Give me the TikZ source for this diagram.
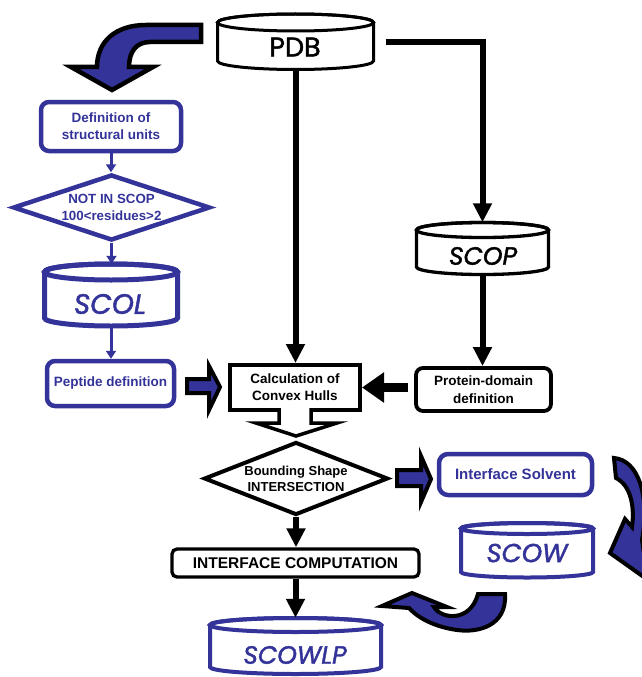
\documentclass[tikz,border=0pt]{standalone}
\usepackage{fontspec}
\setmainfont{Liberation Sans}
\newfontfamily\comicf{Poppins}[FakeBold=1.6]
\usetikzlibrary{arrows.meta,shapes.geometric}
\definecolor{dblue}{RGB}{51,51,153}
\tikzset{
  bluebox/.style={draw=dblue, text=dblue, line width=4.5pt, rounded corners=8pt, fill=white,
    font=\fontsize{13.5}{17}\selectfont\bfseries, align=center, inner sep=0pt},
  blkbox/.style={draw=black, text=black, line width=4pt, fill=white,
    font=\fontsize{13.5}{17}\selectfont\bfseries, align=center, inner sep=0pt},
  bluediam/.style={diamond, aspect=3, draw=dblue, text=dblue, line width=4.5pt, fill=white,
    font=\fontsize{13.3}{17}\selectfont\bfseries, align=center, inner sep=0pt},
  blkdiam/.style={diamond, aspect=3, draw=black, line width=4pt, fill=white,
    font=\fontsize{13}{16}\selectfont\bfseries, align=center, inner sep=0pt},
  bconn/.style={draw=black, line width=6pt, -{Triangle[width=18pt,length=19pt]}},
  hconn/.style={draw=black, line width=9pt, -{Triangle[width=29pt,length=22pt]}},
  sconn/.style={draw=dblue, line width=3pt, -{Triangle[width=10pt,length=8pt]}},
  blockarrow/.style={fill=dblue, draw=black, line width=4pt, line join=miter},
  comictext/.style={inner sep=0pt, font=\comicf\fontsize{#1}{#1}\selectfont},
  comicit/.style={inner sep=0pt, font=\comicf\itshape\fontsize{#1}{#1}\selectfont},
}
% #1 name, #2 cx, #3 rx, #4 top ellipse y, #5 bottom ellipse y, #6 ry, #7 style
\newcommand{\dbcyl}[7]{%
  \filldraw[#7, fill=white] ({#2-#3},#4) -- ({#2-#3},#5)
     arc[start angle=180, end angle=0, x radius=#3, y radius=#6]
     -- ({#2+#3},#4)
     arc[start angle=0, end angle=-180, x radius=#3, y radius=#6] -- cycle;
  \draw[#7] (#2,#4) ellipse[x radius=#3, y radius=#6];
  \path (#2,{(#4+#5)/2}) node[inner sep=0pt, minimum width={2*#3}, minimum height={#5-#4+2*#6}] (#1) {};
}
\begin{document}
\begin{tikzpicture}[x=1pt,y=-1pt]
\useasboundingbox (0,0) rectangle (642,677);
\clip (0,0) rectangle (642,677);

% cylinders
\dbcyl{pdb}{295.5}{78}{22.5}{61}{8.5}{draw=black, line width=3pt}
\node[comictext=27] (pdbt) at (295,47) {PDB};
\dbcyl{scop}{482.5}{66}{230}{267}{7.5}{draw=black, line width=3.3pt}
\node[comicit=25] (scopt) at (483,256) {SCOP};
\dbcyl{scol}{111}{66.5}{272}{318}{8}{draw=dblue, line width=5pt}
\node[comicit=28, text=dblue] (scolt) at (110,304) {SCOL};
\dbcyl{scow}{527}{66}{528.5}{572}{5.5}{draw=dblue, line width=4pt}
\node[comicit=26, text=dblue] (scowt) at (527,553) {SCOW};
\dbcyl{scowlp}{295.5}{85.5}{625}{667}{7}{draw=dblue, line width=4pt}
\node[comicit=25, text=dblue] (scowlpt) at (295,655) {SCOWLP};

% boxes
\node[bluebox, minimum width=140pt, minimum height=49pt] (def) at (111,126.5) {Definition of\\structural units};
\node[bluediam, minimum width=197pt, minimum height=66pt] (notin) at (111.5,207.5) {NOT IN SCOP\\100<residues>2};
\node[bluebox, minimum width=127pt, minimum height=45pt] (pep) at (110.5,383.5) {Peptide definition};
\node[blkbox, minimum width=130pt, minimum height=45pt] (convex) at (295,387.5) {Calculation of\\Convex Hulls};
\node[blkbox, rounded corners=7pt, line width=3.8pt, minimum width=135pt, minimum height=43pt, font=\fontsize{13.5}{18}\selectfont\bfseries] (prot) at (483.5,389.5) {Protein-domain\\definition};
\node[blkdiam, minimum width=184pt, minimum height=73pt] (bound) at (296,478.5) {Bounding Shape\\INTERSECTION};
\node[bluebox, rounded corners=9pt, font=\fontsize{15}{18}\selectfont\bfseries, minimum width=153pt, minimum height=41pt] (solv) at (515.5,474.5) {Interface Solvent};
\node[blkbox, rounded corners=5pt, line width=3.3pt, font=\fontsize{15.5}{18}\selectfont\bfseries, minimum width=247pt, minimum height=28pt] (icomp) at (295.5,563) {INTERFACE COMPUTATION};

% hollow arrow from convex hulls to bounding shape
\filldraw[fill=white, draw=black, line width=3.5pt, line join=miter]
  (279,408) -- (279,423) -- (256,423) -- (296,436) -- (337,423) -- (311,423) -- (311,408);

% connectors
\draw[bconn] (pdb.south) -- (pdb.south |- convex.north);
\draw[bconn] ([xshift=12pt]pdb.east) -| (scop.north);
\draw[bconn] (scop.south) -- (scop.south |- prot.north);
\draw[hconn] ([xshift=-6pt]prot.west |- convex.east) -- (convex.east);
\draw[bconn] (bound.south) -- (bound.south |- icomp.north);
\draw[bconn] (icomp.south) -- (icomp.south |- scowlp.north);
\draw[sconn] (def.south) -- (def.south |- notin.north);
\draw[sconn] (notin.south) -- (notin.south |- scol.north);
\draw[sconn] (scol.south) -- (scol.south |- pep.north);

% block arrows
\filldraw[blockarrow] (187,379) -- (209,379) -- (209,366) -- (220,387) -- (209,410) -- (209,393) -- (187,393) -- cycle;
\filldraw[blockarrow] (397,470) -- (421,470) -- (421,456) -- (431,479) -- (421,502) -- (421,486) -- (397,486) -- cycle;

% big curved arrow PDB -> definition
\filldraw[blockarrow, line width=4.5pt]
  (201,25) -- (146,25) .. controls (115,25) and (97,42) .. (97,67)
  -- (71,67) -- (112,90) -- (153,67) -- (129,67)
  .. controls (129,52) and (136,42) .. (150,42) -- (201,42) -- cycle;

% curved arrow interface solvent -> SCOW
\filldraw[blockarrow]
  (614,458) .. controls (638,460) and (650,495) .. (642,540)
  -- (648,580) -- (610,553) -- (625,519) -- (632,527)
  .. controls (635,505) and (630,485) .. (616,478) -- cycle;

% curved arrow SCOW -> interface computation
\filldraw[blockarrow]
  (478,594) -- (505,594) .. controls (507,626) and (478,633) .. (457,630)
  .. controls (436,627) and (419,619) .. (409,608)
  -- (382,606) -- (412,593) -- (447,607) -- (434,607)
  .. controls (441,619) and (470,623) .. (478,594) -- cycle;
\end{tikzpicture}
\end{document}
